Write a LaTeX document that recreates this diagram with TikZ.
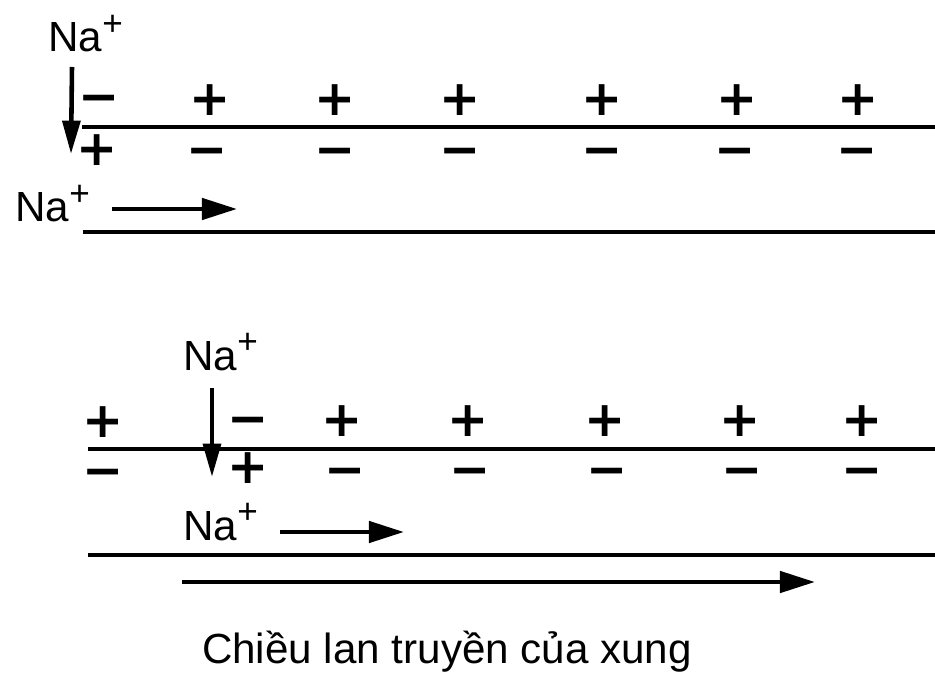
\documentclass[tikz,border=0pt]{standalone}
\usepackage{fontspec}
\setmainfont{Liberation Sans}
\newfontfamily\signfont{DejaVu Sans}
\usetikzlibrary{arrows.meta}
\tikzset{
  sign/.style={font=\signfont\bfseries\fontsize{28}{28}\selectfont, inner sep=0pt},
  ion/.style={font=\fontsize{24}{24}\selectfont, inner sep=0pt, anchor=base west},
  caption/.style={font=\fontsize{24}{24}\selectfont, inner sep=0pt, anchor=base},
  mem/.style={line width=2.6pt},
  flow/.style={line width=2.6pt, -{Triangle[length=20pt,width=12pt]}},
  influx/.style={line width=2.6pt, -{Triangle[length=19pt,width=10pt]}}
}
\newcommand{\Naion}{Na\raisebox{0.38em}{\fontsize{20}{20}\selectfont +}}
\newcommand{\msign}{\vphantom{+}−}
\begin{document}
\begin{tikzpicture}[x=0.02cm,y=-0.02cm]
\useasboundingbox (0,0) rectangle (935,685);
% ---------- top panel ----------
\node[ion] (na1) at (48,52) {\Naion};
\coordinate (a1s) at (72,67);
\coordinate (a1e) at (71,154);
\draw[influx] (a1s) -- (a1e);
\node[sign] (t1m) at (99,98) {\msign};
\node[sign] (t1p) at (97,150) {+};
\foreach \x/\n in {210/2,335/3,460/4,602/5,737/6,858/7}
  \node[sign] (tp\n) at (\x,100) {+};
\foreach \x/\n in {207/2,335/3,460/4,602/5,735/6,857/7}
  \node[sign] (tm\n) at (\x,151) {\msign};
\coordinate (m1a) at (82,127);
\coordinate (m1b) at (935,127);
\draw[mem] (m1a) -- (m1b);
\node[ion] (na2) at (15,222) {\Naion};
\coordinate (a2s) at (112,209);
\coordinate (a2e) at (237,209);
\draw[flow] (a2s) -- (a2e);
\coordinate (m2a) at (83,232);
\coordinate (m2b) at (935,232);
\draw[mem] (m2a) -- (m2b);
% ---------- bottom panel ----------
\node[ion] (na3) at (183,370) {\Naion};
\coordinate (a3s) at (212,388);
\coordinate (a3e) at (212,477);
\draw[influx] (a3s) -- (a3e);
\node[sign] (b1p) at (103,422) {+};
\node[sign] (b1m) at (103,472) {\msign};
\node[sign] (b2m) at (248,420) {\msign};
\node[sign] (b2p) at (248,468) {+};
\foreach \x/\n in {342/3,468/4,605/5,740/6,862/7}
  \node[sign] (bp\n) at (\x,421) {+};
\foreach \x/\n in {345/3,470/4,607/5,742/6,862/7}
  \node[sign] (bm\n) at (\x,471) {\msign};
\coordinate (m3a) at (88,449);
\coordinate (m3b) at (935,449);
\draw[mem] (m3a) -- (m3b);
\node[ion] (na4) at (183,540) {\Naion};
\coordinate (a4s) at (280,532);
\coordinate (a4e) at (404,532);
\draw[flow] (a4s) -- (a4e);
\coordinate (m4a) at (88,555);
\coordinate (m4b) at (935,555);
\draw[mem] (m4a) -- (m4b);
\coordinate (dirs) at (182,582);
\coordinate (dire) at (815,582);
\draw[flow] (dirs) -- (dire);
\node[caption] (cap) at (447,663) {Chiều lan truyền của xung};
\end{tikzpicture}
\end{document}
